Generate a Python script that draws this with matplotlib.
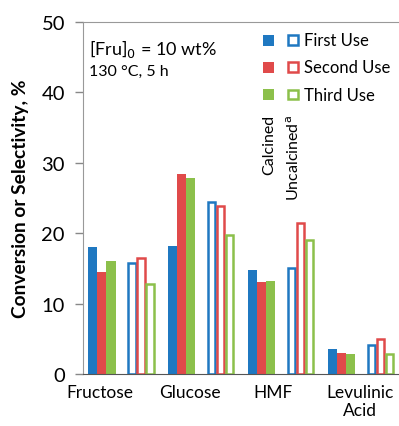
import matplotlib
matplotlib.use("Agg")
import matplotlib.pyplot as plt
import matplotlib.patches as mpatches
import numpy as np

plt.rcParams['font.family'] = ['Lato', 'DejaVu Sans']

categories = ["Fructose", "Glucose", "HMF", "Levulinic\nAcid"]
uses = ["First Use", "Second Use", "Third Use"]

# rows: first, second, third use; columns: categories
calcined = [
    [18.0, 18.2, 14.8, 3.5],
    [14.5, 28.4, 13.1, 3.0],
    [16.0, 27.9, 13.2, 2.8],
]
uncalcined = [
    [15.8, 24.4, 15.0, 4.1],
    [16.5, 23.8, 21.4, 4.9],
    [12.8, 19.7, 19.1, 2.8],
]

colors = ["#1f78c1", "#e04a4a", "#8cc04b"]

fig = plt.figure(figsize=(3.99, 4.27), dpi=100)
ax = fig.add_axes([0.208, 0.122, 0.79, 0.824])

x = np.arange(len(categories))
w = 0.113
for j in range(3):
    ax.bar(x + 0.125 + j * w, calcined[j], width=w, color=colors[j], linewidth=0)
    ax.bar(x + 0.612 + j * w, uncalcined[j], width=w - 0.02,
           facecolor="white", edgecolor=colors[j], linewidth=1.8)

ax.set_xlim(0, 3.95)
ax.set_ylim(0, 50)
ax.set_yticks(range(0, 51, 10))
ax.tick_params(axis="y", labelsize=14.5, length=6, width=1, color="#888888", pad=7)

label_pos = [0.21, 1.34, 2.375, 3.475]
ax.set_xticks(label_pos)
ax.set_xticklabels(categories, fontsize=12.5, linespacing=1.2)
ax.tick_params(axis="x", length=0, pad=7)

for s in ["left", "top"]:
    ax.spines[s].set_color("#999999")
ax.spines["bottom"].set_color("#555555")
ax.spines["right"].set_visible(False)

ax.set_ylabel("Conversion or Selectivity, %", fontsize=13.8, fontweight="bold")
ax.yaxis.set_label_coords(-0.17, 0.5)

ax.text(0.018, 0.958, r"[Fru]$_0$ = 10 wt%", transform=ax.transAxes,
        fontsize=13, va="top", ha="left")
ax.text(0.018, 0.88, "130 °C, 5 h", transform=ax.transAxes,
        fontsize=11.5, va="top", ha="left")

# custom legend: filled (calcined) and hollow (uncalcined) squares
for j, name in enumerate(uses):
    yc = 47.4 - j * 3.85
    hsq = 11 / 7.04
    ax.add_patch(mpatches.Rectangle((2.25, yc - hsq / 2), 0.14, hsq,
                                    facecolor=colors[j], linewidth=0, clip_on=False))
    ax.add_patch(mpatches.Rectangle((2.57, yc - hsq * 0.45), 0.125, hsq * 0.9,
                                    facecolor="white", edgecolor=colors[j],
                                    linewidth=1.8, clip_on=False))
    ax.text(2.765, yc, name, fontsize=12, va="center", ha="left")

ax.text(2.33, 36.9, "Calcined", rotation=90, fontsize=11.5, va="top", ha="center")
ax.text(2.64, 36.9, "Uncalcined$^{\\mathrm{a}}$", rotation=90, fontsize=11.5,
        va="top", ha="center")

fig.savefig("out.png", dpi=100)
